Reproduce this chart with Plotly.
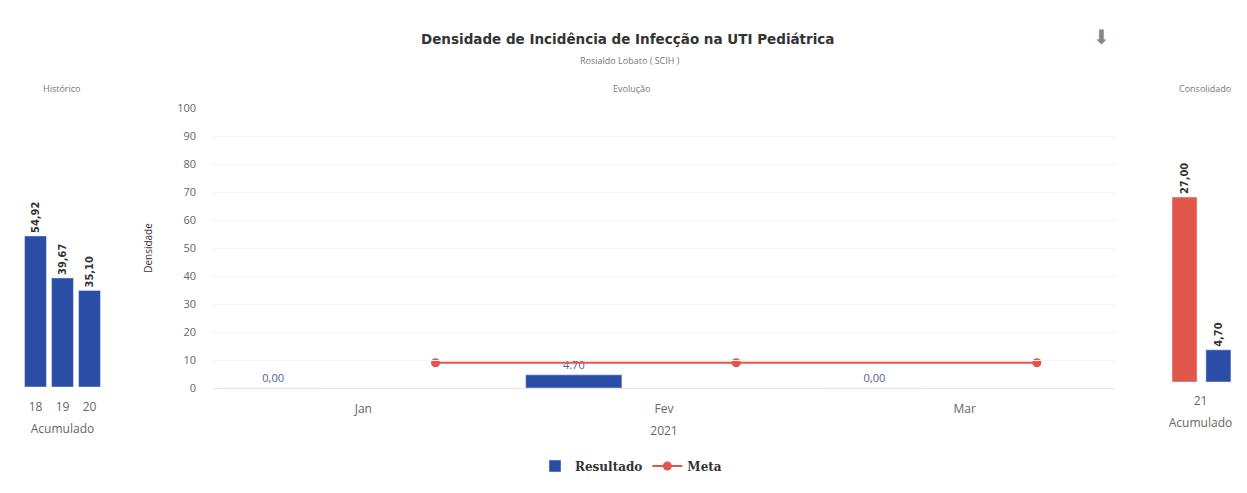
import plotly.graph_objects as go

# dados
hist_anos = ["18", "19", "20"]
hist_valores = [54.92, 39.67, 35.10]

meses = ["Jan", "Fev", "Mar"]
resultado = [0.00, 4.70, 0.00]
resultado_rotulos = ["0,00", "4.70", "0,00"]
meta = [9.00, 9.00, 9.00]

cons_ano = ["21"]
cons_meta = [27.00]
cons_resultado = [4.70]

W, H = 1247, 493
PAD = 8  # margem padrão do <body>
FW, FH = W - 2 * PAD, H - 2 * PAD
AZUL = "#2a4ea6"
VERMELHO = "#e2574c"
CINZA = "#666666"


def fx(p):
    return min(max((p - PAD) / FW, 0), 1)


def fy(p):
    return min(max(1 - (p - PAD) / FH, 0), 1)


def fmt(v):
    return f"{v:.2f}".replace(".", ",")


rot_font = dict(family="DejaVu Sans Condensed", size=11, color="#333333", weight="bold")

fig = go.Figure()

# histórico
fig.add_trace(go.Bar(
    x=hist_anos, y=hist_valores, xaxis="x", yaxis="y",
    marker_color=AZUL, showlegend=False,
    text=[fmt(v) for v in hist_valores], textposition="outside", textangle=-90,
    textfont=rot_font, constraintext="none", cliponaxis=False,
))

# evolução: eixo só para os rótulos dos meses
fig.add_trace(go.Scatter(
    x=meses, y=[None] * len(meses), xaxis="x4", yaxis="y2",
    showlegend=False, hoverinfo="skip", mode="markers",
))
fig.add_trace(go.Bar(
    x=meses, y=resultado, xaxis="x2", yaxis="y2", name="Resultado",
    marker_color=AZUL, width=0.32,
    text=resultado_rotulos, textposition="outside", textangle=0,
    textfont=dict(family="Open Sans", size=11, color="#51619a"),
    constraintext="none", cliponaxis=False,
))
fig.add_trace(go.Scatter(
    x=meses, y=meta, xaxis="x3", yaxis="y2", name="Meta",
    mode="lines+markers", line=dict(color=VERMELHO, width=2),
    marker=dict(color=VERMELHO, size=9, symbol="circle", line=dict(width=0)),
))

# consolidado
fig.add_trace(go.Bar(
    x=cons_ano, y=cons_meta, xaxis="x5", yaxis="y3", showlegend=False,
    marker_color=VERMELHO, offset=-0.37, width=0.325,
    text=[fmt(v) for v in cons_meta], textposition="outside", textangle=-90,
    textfont=rot_font, constraintext="none", cliponaxis=False,
))
fig.add_trace(go.Bar(
    x=cons_ano, y=cons_resultado, xaxis="x5", yaxis="y3", showlegend=False,
    marker_color=AZUL, offset=0.07, width=0.325,
    text=[fmt(v) for v in cons_resultado], textposition="outside", textangle=-90,
    textfont=rot_font, constraintext="none", cliponaxis=False,
))

tick_font = dict(family="Open Sans", size=12, color=CINZA)
title_font = dict(family="Open Sans", size=12, color=CINZA)
main_dom = [fx(213), fx(1115)]

fig.update_layout(
    width=FW, height=FH,
    margin=dict(l=0, r=0, t=0, b=0, autoexpand=False),
    paper_bgcolor="white", plot_bgcolor="rgba(0,0,0,0)",
    barmode="overlay", bargap=0.19,
    font=dict(family="Open Sans", color="#333333"),
    xaxis=dict(domain=[fx(22), fx(103)], anchor="y", type="category",
               tickfont=tick_font, ticklabelstandoff=11,
               title=dict(text="Acumulado", font=title_font, standoff=10),
               showgrid=False, ticks="", fixedrange=True, automargin=False),
    yaxis=dict(domain=[fy(387), fy(112)], anchor="x", range=[0, 100],
               visible=False, fixedrange=True, automargin=False),
    # barras deslocadas para a esquerda, linha para a direita
    xaxis2=dict(domain=main_dom, anchor="y2", type="category", categoryarray=meses,
                range=[-0.2, 2.8], visible=False, fixedrange=True, automargin=False),
    xaxis3=dict(domain=main_dom, anchor="y2", type="category", categoryarray=meses,
                range=[-0.74, 2.26], visible=False, fixedrange=True, automargin=False),
    xaxis4=dict(domain=main_dom, anchor="y2", type="category", categoryarray=meses,
                range=[-0.5, 2.5],
                tickfont=tick_font, ticklabelstandoff=10,
                title=dict(text="2021", font=title_font, standoff=10),
                showgrid=False, zeroline=False, showline=True, linecolor="#e6e6e6",
                ticks="", fixedrange=True, automargin=False),
    yaxis2=dict(domain=[fy(388), fy(108)], anchor="x4", range=[0, 100], dtick=10,
                tickfont=dict(family="Open Sans", size=11, color=CINZA),
                ticklabelstandoff=16,
                title=dict(text="Densidade", font=dict(family="Open Sans", size=10, color="#333333"),
                           standoff=22),
                showgrid=True, gridcolor="#f4f4f4", zeroline=False, ticks="",
                fixedrange=True, automargin=False),
    xaxis5=dict(domain=[fx(1162), fx(1239)], anchor="y3", type="category",
                tickfont=tick_font, ticklabelstandoff=10,
                title=dict(text="Acumulado", font=title_font, standoff=10),
                showgrid=False, ticks="", fixedrange=True, automargin=False),
    yaxis3=dict(domain=[fy(382), fy(108)], anchor="x5", range=[0, 40],
                visible=False, fixedrange=True, automargin=False),
    legend=dict(orientation="h", x=fx(631), xanchor="center", y=fy(466), yanchor="middle",
                font=dict(family="DejaVu Serif", size=12, color="#333333", weight="bold"),
                bgcolor="rgba(0,0,0,0)"),
)

annotations = [
    dict(text="<b>Densidade de Incidência de Infecção na UTI Pediátrica</b>", x=fx(627), y=fy(39),
         font=dict(family="DejaVu Sans", size=13.5, color="#333333")),
    dict(text="Rosialdo Lobato ( SCIH )", x=fx(630), y=fy(60),
         font=dict(family="Open Sans", size=9, color="#777777")),
    dict(text="Histórico", x=fx(62), y=fy(88),
         font=dict(family="Open Sans", size=9, color="#777777")),
    dict(text="Evolução", x=fx(631), y=fy(88),
         font=dict(family="Open Sans", size=9, color="#777777")),
    dict(text="Consolidado", x=fx(1205), y=fy(88),
         font=dict(family="Open Sans", size=9, color="#777777")),
    dict(text="⬇", x=fx(1101), y=fy(37),
         font=dict(family="DejaVu Sans", size=20, color="#888888")),
]
for a in annotations:
    fig.add_annotation(xref="paper", yref="paper", showarrow=False,
                       xanchor="center", yanchor="middle", **a)

fig.write_html("out.html")
